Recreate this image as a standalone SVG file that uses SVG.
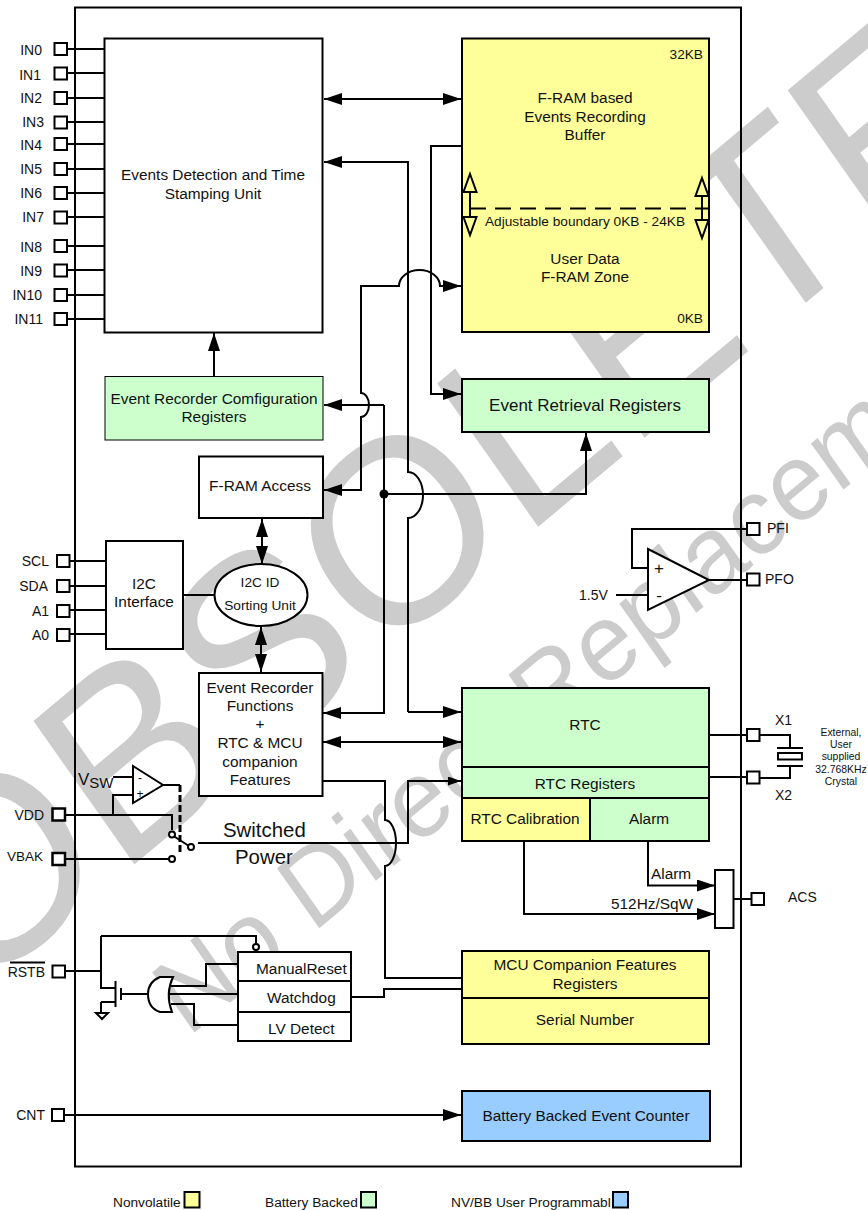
<svg xmlns="http://www.w3.org/2000/svg" width="868" height="1210" viewBox="0 0 868 1210">
<style>
text{font-family:"Liberation Sans",Arial,sans-serif;fill:#111;font-size:15.4px}
.m{text-anchor:middle}
.e{text-anchor:end}
.l{font-size:14px}
.b{stroke:#000;stroke-width:2;fill:#fff}
.y{stroke:#000;stroke-width:2;fill:#ffff99}
.g{stroke:#000;stroke-width:2;fill:#ccffcc}
.u{stroke:#000;stroke-width:2;fill:#99ccff}
.n{stroke:#000;stroke-width:2;fill:none}
.p{stroke:#000;stroke-width:2;fill:#fff}
.w{stroke:#000;stroke-width:2;fill:none}
.a{marker-end:url(#ah)}
.d{marker-start:url(#ahs);marker-end:url(#ah)}
.s{font-size:13.7px}
.xs{font-size:10.4px}
.k{font-size:13.7px}
</style>
<defs>
<marker id="ah" markerUnits="userSpaceOnUse" markerWidth="18" markerHeight="12" refX="18" refY="6" orient="auto"><path d="M0,0L18,6L0,12Z" fill="#000"/></marker>
<marker id="ahs" markerUnits="userSpaceOnUse" markerWidth="18" markerHeight="12" refX="0" refY="6" orient="auto"><path d="M18,0L0,6L18,12Z" fill="#000"/></marker>
<marker id="ahm" markerUnits="userSpaceOnUse" markerWidth="13" markerHeight="9" refX="13" refY="4.5" orient="auto"><path d="M0,0L13,4.5L0,9Z" fill="#000"/></marker>
</defs>
<g id="watermark">
<text transform="translate(-30,1002) scale(1,1.09) rotate(-37.5)" style="font-size:241px;fill:#ccc">OBSOLETE</text>
<text transform="translate(188,1038) scale(1,1.09) rotate(-37.5)" style="font-size:101px;fill:#ccc">No Direct Replacement</text>
</g>
<g id="chip"><rect class="n" x="75" y="7.500" width="666" height="1159"/></g>
<g id="connectors">
<path class="w" d="M67,49H104M67,73H104M67,98H104M67,122H104M67,144H104M67,169H104M67,193H104M67,217H104M67,246H104M67,270H104M67,295H104M67,319H104"/>
<path class="w" d="M70,561H106M70,586H106M70,610H106M70,634H106"/>
<path class="w d" d="M324,99H461"/>
<path class="w a" d="M408,712V518A15,23 0 0 0 408,472V162H324"/>
<path class="w a" d="M408,712H461"/>
<path class="w a" d="M461,146H431V394H461"/>
<path class="w a" d="M323,490H361V417A8,12 0 0 0 361,393V286H399A20.500,16 0 0 1 440,286H461"/>
<path class="w a" d="M361,490H324"/>
<path class="w a" d="M384,405H324"/>
<path class="w a" d="M384,405V713H323"/>
<path class="w a" d="M384,494H586V433"/>
<path class="w d" d="M323,742H461"/>
<path class="w a" d="M214,376V333"/>
<path class="w d" d="M262,519V564"/>
<path class="w d" d="M261,627V672"/>
<path class="w" d="M183,595H214"/>
<path class="w" d="M323,781H385V820A11,23 0 0 1 385,866V978H461"/>
<path class="w" d="M352,997H384V989H461"/>
<path class="w" d="M198,843H408V781H461" style="marker-end:url(#ahm)"/>
<path class="w" d="M113,777H133M133,795H113V815M163,785H180"/>
<path d="M180,785V854" fill="none" stroke="#000" stroke-width="3" stroke-dasharray="7,3"/>
<path class="w" d="M65,815H172V830M65,859H169M173.500,836L189,846"/>
<path class="w" d="M65,971H101M101,936V988H116M101,1002H116M101,1002V1013M101,936H256V944M120,994H148"/>
<path class="w" d="M115.500,981V1007M121,988V1000"/>
<path class="w" d="M170,986H206V964H238M168,994H238M171,1004H194V1025H238"/>
<path class="w a" d="M524,841V914H715"/>
<path class="w a" d="M648,841V885.500H715"/>
<path class="w" d="M733,899H751"/>
<path class="w a" d="M64,1115H461"/>
<path class="w" d="M709,735H747M709,777H747M760,735H790V748M760,778H790V766M747,529H632V568H648M616,595H648M709,580H747"/>
<circle cx="384" cy="494" r="4.500" fill="#000"/>
</g>
<g id="pins">
<g id="pin-in"><rect class="p" x="54.500" y="43" width="12.500" height="12"/><rect class="p" x="54.500" y="67.500" width="12.500" height="12"/><rect class="p" x="54.500" y="92" width="12.500" height="12"/><rect class="p" x="54.500" y="116.500" width="12.500" height="12"/><rect class="p" x="54.500" y="138" width="12.500" height="12"/><rect class="p" x="54.500" y="163" width="12.500" height="12"/><rect class="p" x="54.500" y="187" width="12.500" height="12"/><rect class="p" x="54.500" y="211.500" width="12.500" height="12"/><rect class="p" x="54.500" y="240" width="12.500" height="12"/><rect class="p" x="54.500" y="264.500" width="12.500" height="12"/><rect class="p" x="54.500" y="289" width="12.500" height="12"/><rect class="p" x="54.500" y="313" width="12.500" height="12"/>
<text class="e l" x="42" y="55">IN0</text><text class="e l" x="41" y="80">IN1</text><text class="e l" x="42" y="103">IN2</text><text class="e l" x="44" y="127">IN3</text><text class="e l" x="42" y="150">IN4</text><text class="e l" x="42" y="174">IN5</text><text class="e l" x="42" y="198">IN6</text><text class="e l" x="44" y="222">IN7</text><text class="e l" x="42" y="252">IN8</text><text class="e l" x="42" y="276">IN9</text><text class="e l" x="42" y="300">IN10</text><text class="e l" x="43" y="324">IN11</text></g>
<g id="pin-i2c"><rect class="p" x="57" y="555" width="12.500" height="12"/><rect class="p" x="57" y="580" width="12.500" height="12"/><rect class="p" x="57" y="605" width="12.500" height="12"/><rect class="p" x="57" y="629" width="12.500" height="12"/>
<text class="e l" x="49" y="566">SCL</text><text class="e l" x="48" y="591">SDA</text><text class="e l" x="49" y="616">A1</text><text class="e l" x="49" y="640">A0</text></g>
<g id="pin-vdd"><rect class="p" x="52.500" y="808.500" width="12.500" height="12" style="stroke-width:2.500"/><text class="e l" x="44" y="820">VDD</text></g>
<g id="pin-vbak"><rect class="p" x="52.500" y="853" width="12.500" height="12" style="stroke-width:2.500"/><text class="e l" x="43" y="861" style="font-size:13.500px">VBAK</text></g>
<g id="pin-rstb"><rect class="p" x="52.500" y="965.500" width="12.500" height="12"/><text class="e l" x="45" y="977">RSTB</text><path class="w" d="M10,962.500H45"/></g>
<g id="pin-cnt"><rect class="p" x="52" y="1109" width="12" height="12"/><text class="e l" x="45" y="1120">CNT</text></g>
<g id="pin-pfi"><rect class="p" x="747" y="523" width="12.500" height="12"/><text class="l" x="767" y="533">PFI</text></g>
<g id="pin-pfo"><rect class="p" x="747" y="573.500" width="12.500" height="12"/><text class="l" x="765" y="584">PFO</text></g>
<g id="pin-x1"><rect class="p" x="747" y="729" width="12.500" height="12"/><text class="l" x="775" y="725">X1</text></g>
<g id="pin-x2"><rect class="p" x="747" y="771.500" width="12.500" height="12"/><text class="l" x="775" y="800">X2</text></g>
<g id="pin-acs"><rect class="p" x="751.500" y="893" width="12.500" height="12"/><text class="l" x="788" y="902">ACS</text></g>
</g>
<g id="events"><rect class="b" x="104.500" y="38.500" width="218" height="294"/><text class="m" x="213" y="180">Events Detection and Time</text><text class="m" x="213" y="199">Stamping Unit</text></g>
<g id="fram"><rect class="y" x="462" y="38.500" width="247" height="293.500"/>
<text class="e k" x="703" y="59">32KB</text>
<text class="m" x="585" y="103">F-RAM based</text><text class="m" x="585" y="122">Events Recording</text><text class="m" x="585" y="140">Buffer</text>
<path d="M470,208.500H708" fill="none" stroke="#000" stroke-width="2" stroke-dasharray="16,9"/>
<path class="n" d="M470,192V217M702,196V220"/>
<path class="n" d="M470,174L476.500,192H463.500ZM463.500,217H476.500L470,235ZM702,178L708.500,196H695.500ZM695.500,220H708.500L702,238Z"/>
<text class="m k" x="585" y="226">Adjustable boundary 0KB - 24KB</text>
<text class="m" x="585" y="264">User Data</text><text class="m" x="585" y="282">F-RAM Zone</text>
<text class="e k" x="703" y="323">0KB</text></g>
<g id="retrieval"><rect class="g" x="462" y="379" width="247" height="53"/><text class="m" x="585" y="411" style="font-size:17px">Event Retrieval Registers</text></g>
<g id="config"><rect class="g" x="105" y="376.500" width="218" height="63.500" style="stroke-width:1"/><text class="m" x="214" y="404">Event Recorder Comfiguration</text><text class="m" x="214" y="422">Registers</text></g>
<g id="fram-access"><rect class="b" x="199" y="456.500" width="124" height="61.500"/><text class="m" x="260" y="491">F-RAM Access</text></g>
<g id="i2c"><rect class="b" x="106" y="541" width="77" height="108"/><text class="m" x="144" y="589">I2C</text><text class="m" x="144" y="607">Interface</text></g>
<g id="sorting"><ellipse class="b" cx="261" cy="595" rx="46.500" ry="31"/><text class="m k" x="260" y="587">I2C ID</text><text class="m k" x="260" y="610">Sorting Unit</text></g>
<g id="functions"><rect class="b" x="199" y="673" width="123.500" height="123"/><text class="m" x="260" y="693">Event Recorder</text><text class="m" x="260" y="711">Functions</text><text class="m" x="260" y="729">+</text><text class="m" x="260" y="748">RTC &amp; MCU</text><text class="m" x="260" y="767">companion</text><text class="m" x="260" y="785">Features</text></g>
<g id="rtc"><rect class="g" x="462" y="688" width="247" height="79"/><rect class="g" x="462" y="767" width="247" height="31"/><rect class="y" x="462" y="798" width="128" height="43"/><rect class="g" x="590" y="798" width="119" height="43"/><text class="m" x="585" y="730">RTC</text><text class="m" x="585" y="789">RTC Registers</text><text class="m" x="525" y="824">RTC Calibration</text><text class="m" x="649" y="824">Alarm</text></g>
<g id="comparator-pf"><path class="b" d="M648,549L709,580L648,610Z"/><text class="m" x="659" y="574" style="font-size:17px">+</text><text class="m" x="659" y="601" style="font-size:17px">-</text><text class="l" x="579" y="600">1.5V</text></g>
<g id="crystal"><path class="w" d="M777,748H803M777,766H803"/><rect class="b" x="778" y="753" width="24" height="6.500"/><text class="m xs" x="841" y="736">External,</text><text class="m xs" x="841" y="748">User</text><text class="m xs" x="841" y="760">supplied</text><text class="m xs" x="841" y="773">32.768KHz</text><text class="m xs" x="841" y="785">Crystal</text></g>
<g id="mux"><rect class="b" x="715" y="870" width="18.500" height="58"/><text x="651" y="879">Alarm</text><text x="611" y="909">512Hz/SqW</text></g>
<g id="mcu"><rect class="y" x="462" y="951" width="247" height="47"/><rect class="y" x="462" y="998" width="247" height="46"/><text class="m" x="585" y="970">MCU Companion Features</text><text class="m" x="585" y="989">Registers</text><text class="m" x="585" y="1025">Serial Number</text></g>
<g id="counter"><rect class="u" x="462" y="1091" width="248" height="50"/><text class="m" x="586" y="1121">Battery Backed Event Counter</text></g>
<g id="comparator-vsw"><path class="b" d="M133,766L163,785L133,803Z"/><text class="m" x="140" y="782" style="font-size:12px">-</text><text class="m" x="140" y="798" style="font-size:12px">+</text><text x="78" y="785" style="font-size:17px">V<tspan dy="3" style="font-size:15px">SW</tspan></text></g>
<g id="switch"><circle class="b" cx="172" cy="834.500" r="3"/><circle class="b" cx="172" cy="859" r="3"/><circle class="b" cx="191" cy="847" r="3"/><text x="223" y="837" style="font-size:20.400px">Switched</text><text x="235" y="864" style="font-size:20.400px">Power</text></g>
<g id="reset"><rect class="b" x="238" y="952" width="113" height="29"/><rect class="b" x="238" y="981" width="113" height="31"/><rect class="b" x="238" y="1012" width="113" height="29"/><circle class="b" cx="256" cy="947" r="3"/><text x="256" y="974">ManualReset</text><text x="267" y="1003">Watchdog</text><text x="268" y="1034">LV Detect</text></g>
<g id="or-gate"><path class="b" d="M173,977Q165,994 172,1012H160Q148,1008 148,994Q148,982 160,977Z"/></g>
<g id="transistor"><path class="n" d="M96,1013H108L102,1019Z"/></g>
<g id="legend"><text x="113" y="1207" class="s">Nonvolatile</text><rect class="y" x="184.500" y="1192" width="15" height="15.500"/><text x="265" y="1207" class="s">Battery Backed</text><rect class="g" x="361" y="1192" width="15" height="15.500"/><text x="451" y="1207" class="s">NV/BB User Programmabl</text><rect class="u" x="613" y="1192" width="15" height="15.500"/></g>
</svg>
